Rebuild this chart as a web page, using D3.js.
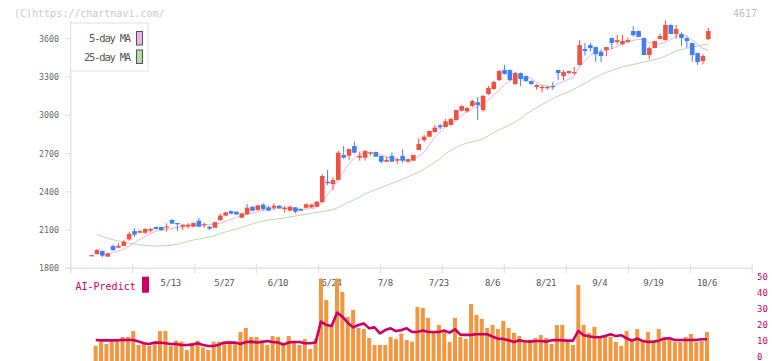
<!DOCTYPE html>
<html><head><meta charset="utf-8">
<script src="https://cdn.jsdelivr.net/npm/d3@7/dist/d3.min.js"></script>
<style>body{margin:0;background:#fff}svg{display:block}</style>
</head><body><div id="chart"></div>
<script>
const dates = ["4/17","4/18","4/21","4/22","4/23","4/24","4/25","4/28","4/30","5/1","5/2","5/7","5/8","5/9","5/12",
"5/13","5/14","5/15","5/16","5/19","5/20","5/21","5/22","5/23","5/26",
"5/27","5/28","5/29","5/30","6/2","6/3","6/4","6/5","6/6","6/9",
"6/10","6/11","6/12","6/13","6/16","6/17","6/18","6/19","6/20","6/23",
"6/24","6/25","6/26","6/27","6/30","7/1","7/2","7/3","7/4","7/7",
"7/8","7/9","7/10","7/11","7/14","7/15","7/16","7/17","7/18","7/22",
"7/23","7/24","7/25","7/28","7/29","7/30","7/31","8/1","8/4","8/5",
"8/6","8/7","8/8","8/12","8/13","8/14","8/15","8/18","8/19","8/20",
"8/21","8/22","8/25","8/26","8/27","8/28","8/29","9/1","9/2","9/3",
"9/4","9/5","9/8","9/9","9/10","9/11","9/12","9/16","9/17","9/18",
"9/19","9/22","9/24","9/25","9/26","9/29","9/30","10/1","10/2","10/3","10/6"];
const open  = [1900,1912,1936,1891,1975,1962,1975,2027,2092,2079,2079,2095,2124,2124,2121,2179,2155,2126,2129,2126,2173,2137,2126,2118,2179,2213,2249,2244,2197,2223,2283,2257,2299,2278,2275,2291,2263,2252,2278,2265,2275,2278,2283,2318,2479,2461,2493,2689,2683,2759,2668,2668,2702,2712,2681,2636,2681,2644,2681,2636,2644,2728,2806,2832,2869,2921,2908,2924,2963,3036,3031,3073,3102,3041,3167,3206,3276,3355,3355,3245,3331,3308,3269,3222,3214,3214,3230,3355,3308,3331,3331,3394,3520,3551,3535,3496,3512,3606,3575,3559,3575,3661,3661,3606,3473,3527,3598,3590,3708,3637,3637,3606,3567,3488,3426,3598];
const high  = [1905,1951,1940,1920,1985,1996,2022,2085,2114,2100,2114,2118,2126,2126,2153,2185,2155,2144,2153,2158,2194,2158,2132,2165,2229,2244,2255,2246,2233,2304,2286,2296,2310,2291,2310,2294,2289,2291,2281,2270,2310,2302,2328,2540,2571,2514,2722,2759,2740,2793,2715,2728,2715,2715,2683,2675,2707,2662,2733,2662,2689,2820,2845,2880,2924,2930,2971,2980,3041,3080,3065,3120,3141,3160,3230,3270,3355,3395,3360,3340,3335,3312,3272,3245,3237,3230,3262,3360,3355,3350,3378,3590,3567,3570,3540,3512,3535,3610,3630,3630,3610,3700,3665,3610,3540,3582,3640,3745,3712,3708,3650,3620,3570,3490,3480,3686];
const low   = [1898,1907,1886,1891,1936,1960,1975,2016,2048,2079,2069,2082,2104,2095,2087,2150,2095,2100,2111,2124,2126,2116,2100,2116,2171,2210,2223,2220,2194,2220,2249,2252,2252,2250,2257,2268,2236,2247,2231,2249,2270,2275,2281,2315,2453,2414,2490,2660,2649,2702,2644,2644,2683,2675,2623,2636,2636,2618,2628,2628,2644,2728,2793,2832,2864,2890,2906,2920,2960,3030,3020,3065,2963,3030,3160,3200,3270,3320,3270,3240,3230,3260,3240,3200,3180,3200,3200,3276,3276,3325,3316,3390,3469,3500,3420,3418,3465,3520,3555,3550,3570,3620,3614,3473,3440,3527,3598,3585,3637,3600,3545,3530,3420,3394,3400,3590];
const close = [1903,1944,1899,1918,1943,1975,2009,2069,2064,2092,2108,2108,2108,2100,2129,2150,2150,2142,2142,2155,2126,2145,2111,2161,2213,2239,2228,2223,2231,2275,2252,2294,2265,2252,2291,2270,2275,2283,2244,2252,2302,2299,2322,2524,2467,2492,2707,2668,2736,2707,2681,2720,2709,2675,2636,2649,2636,2655,2644,2655,2689,2775,2832,2877,2903,2906,2953,2971,3041,3072,3057,3112,3081,3151,3214,3261,3347,3324,3276,3331,3284,3269,3245,3237,3222,3222,3222,3331,3339,3347,3339,3551,3504,3527,3480,3465,3535,3567,3590,3582,3590,3629,3614,3473,3527,3582,3622,3708,3637,3677,3606,3582,3473,3418,3465,3661];
const ma5 = [null,null,null,1915,1925,1935,1950,1975,2000,2027,2050,2072,2090,2100,2104,2112,2120,2125,2130,2137,2140,2142,2145,2146,2155,2168,2185,2200,2212,2222,2233,2245,2255,2263,2270,2274,2274,2273,2268,2262,2264,2268,2275,2320,2380,2430,2500,2560,2620,2665,2690,2704,2708,2700,2688,2672,2665,2656,2650,2650,2657,2678,2710,2770,2830,2870,2912,2935,2968,3000,3030,3050,3070,3085,3118,3160,3200,3240,3270,3295,3305,3300,3288,3258,3236,3228,3226,3250,3265,3285,3310,3380,3430,3470,3495,3503,3510,3522,3540,3562,3575,3588,3596,3590,3570,3562,3560,3572,3595,3620,3630,3625,3590,3555,3525,3510];
const ma25 = [null,2066,2050,2035,2024,2013,2004,1997,1990,1984,1980,1976,1975,1976,1977,1982,1988,2000,2012,2022,2030,2038,2046,2058,2072,2085,2097,2108,2122,2135,2148,2162,2170,2178,2184,2190,2196,2203,2210,2216,2224,2231,2238,2245,2252,2260,2278,2300,2320,2338,2358,2385,2400,2418,2433,2450,2466,2482,2500,2518,2535,2555,2578,2605,2632,2658,2700,2725,2748,2768,2782,2793,2803,2814,2840,2865,2886,2905,2925,2948,2975,3010,3035,3060,3085,3108,3132,3150,3168,3185,3205,3230,3250,3275,3298,3318,3337,3352,3366,3380,3390,3398,3408,3418,3428,3438,3448,3465,3485,3505,3515,3525,3535,3545,3553,3560];
const volume = [null,7.1,9.8,8.3,9.8,9.8,12.7,12.7,16.4,7.7,8.3,7.1,8.3,16.4,16.4,7.1,10.4,9.8,4.6,9.1,10.4,6.2,4.6,9.8,9.8,9.1,10.4,9.1,15.8,18.3,12.7,12.7,10.8,7.7,13.3,12.7,9.1,13.3,9.8,7.7,11.4,5.2,11.4,55,35.8,20.2,55,40.8,25.2,29.6,18.3,17.7,12.1,7.7,7.7,7.7,12.7,11.4,14.8,10.8,9.8,31.5,30.8,24.6,15.8,20.2,16.5,9.6,24.6,12.7,11.5,33.3,26.5,24,18.3,20.2,17.7,22.7,18.3,15.2,13.3,10.8,10.8,12.1,14,12.1,8.3,20.2,20.2,9.6,7.7,45.2,20.2,15.2,19,13.3,12.7,12.7,9.6,7.1,16.5,10.8,17.7,10.2,15.8,10.2,17.7,10.8,10.8,9.6,9.6,12.7,14.6,9.6,10.2,15.8];
const aiPredict = [null,10.8,10.6,10.6,10.6,10.6,10.8,10.8,10.8,9.8,8.8,8.3,9.2,9.2,8.8,8.3,8.3,7.7,7.7,7.9,8.8,7.7,7.1,7.1,7.9,9.2,9.2,9.2,8.3,9.6,9.8,9.2,9.6,10.2,9.6,9.2,7.9,9.2,9.6,9.6,8.8,8.8,9.2,22.3,20.2,19.5,27.9,25.4,21.6,18.7,20.2,21.2,18.1,18.7,14.9,17,18.1,16.4,17,18.1,15.8,15.8,16.7,15.8,15.8,15.8,16.7,15.4,17.5,14.2,14,14,14.4,14.4,14.4,12.9,11.7,11.5,10.6,9.6,10.6,10,9.8,10.2,10.2,9.8,10.6,10.8,10.6,10.4,10.4,16.5,13.8,13.1,12.5,12.5,13.3,14.4,13.3,13.8,11.9,10.4,11.7,10.2,9.6,9.8,10.4,11.7,11.9,10.8,10.8,10.8,10.8,10.8,11.3,11.3];
const yTicks = [1800,2100,2400,2700,3000,3300,3600];
const xLabels = ["5/13","5/27","6/10","6/24","7/8","7/23","8/6","8/21","9/4","9/19","10/6"];
const volTicks = [0,10,20,30,40,50];
const legendItems = ["5-day MA","25-day MA"];

const W = 772, H = 361;
const UP = "#f0503f", DOWN = "#3f7ff0";
const MA5C = "#e6b3ea", MA25C = "#b5dba6", AIC = "#cc0066", VOLC = "#f29640";
const MONO = "'DejaVu Sans Mono', 'Liberation Mono', monospace";

const svg = d3.select("#chart").append("svg").attr("width", W).attr("height", H);

const x = d3.scaleLinear().domain([-3.9, 123.2]).range([70.7, 752.3]);
const y = d3.scaleLinear().domain([1800, 3600]).range([268.3, 38.8]);
const yv = d3.scaleLinear().domain([0, 50]).range([357.3, 277.3]);
const idx = d3.range(dates.length);

// header
svg.append("text").attr("x", 14).attr("y", 17).text("(C)https://chartnavi.com/")
  .attr("font-family", MONO).attr("font-size", 10).attr("fill", "#c8c8c8");
svg.append("text").attr("x", 757).attr("y", 17).attr("text-anchor", "end").text("4617")
  .attr("font-family", MONO).attr("font-size", 10).attr("fill", "#bdbdbd");

// axes
const axisCol = "#e3e3e3";
const [x0, x1] = x.range();
svg.append("line").attr("x1", x0).attr("x2", x0).attr("y1", 21).attr("y2", 268.3)
  .attr("stroke", axisCol).attr("stroke-width", 1.5);
svg.append("line").attr("x1", 65).attr("x2", x1).attr("y1", 268.3).attr("y2", 268.3)
  .attr("stroke", axisCol).attr("stroke-width", 1.5);
const gridTicks = d3.range(12).map(k => x0 + k * (x1 - x0) / 11);
svg.selectAll(".xt").data(gridTicks).join("line")
  .attr("x1", d => d).attr("x2", d => d).attr("y1", 264.5).attr("y2", 273)
  .attr("stroke", axisCol).attr("stroke-width", 1.5);
svg.selectAll(".yt").data(yTicks).join("line")
  .attr("x1", 65).attr("x2", x0).attr("y1", d => y(d)).attr("y2", d => y(d))
  .attr("stroke", axisCol).attr("stroke-width", 1.2);
svg.selectAll(".yl").data(yTicks).join("text")
  .attr("x", 59).attr("y", d => y(d) + 3).attr("text-anchor", "end").text(d => d)
  .attr("font-family", MONO).attr("font-size", 8.3).attr("fill", "#666");

svg.selectAll(".xl").data(xLabels).join("text")
  .attr("x", d => x(dates.indexOf(d)) - 1.4).attr("y", 286).attr("text-anchor", "middle").text(d => d)
  .attr("font-family", MONO).attr("font-size", 9).attr("letter-spacing", -0.4).attr("fill", "#555");

// MA lines
const lineGen = arr => d3.line().defined(i => arr[i] != null).x(i => x(i)).y(i => y(arr[i]))(idx);
svg.append("path").attr("d", lineGen(ma25)).attr("fill", "none").attr("stroke", MA25C).attr("stroke-width", 1);
svg.append("path").attr("d", lineGen(ma5)).attr("fill", "none").attr("stroke", MA5C).attr("stroke-width", 1);

// candles
const cw = 4.6;
const cg = svg.append("g");
idx.forEach(i => {
  const col = close[i] >= open[i] ? UP : DOWN;
  cg.append("line").attr("x1", x(i)).attr("x2", x(i)).attr("y1", y(high[i])).attr("y2", y(low[i]))
    .attr("stroke", col).attr("stroke-width", 1);
  const top = y(Math.max(open[i], close[i])), bot = y(Math.min(open[i], close[i]));
  cg.append("rect").attr("x", x(i) - cw / 2).attr("y", top).attr("width", cw)
    .attr("height", Math.max(1.2, bot - top)).attr("fill", col);
});

// legend
svg.append("rect").attr("x", 70.5).attr("y", 23).attr("width", 77.5).attr("height", 48)
  .attr("fill", "#fff").attr("stroke", "#e0e0e0").attr("stroke-width", 1);
legendItems.forEach((t, k) => {
  svg.append("text").attr("x", 130).attr("y", 42 + k * 19).attr("text-anchor", "end").text(t)
    .attr("font-family", MONO).attr("font-size", 10.5).attr("letter-spacing", -1.2).attr("fill", "#555");
  svg.append("rect").attr("x", 136.5).attr("y", 31.5 + k * 18.5).attr("width", 6).attr("height", 13.5)
    .attr("fill", k === 0 ? MA5C : MA25C).attr("stroke", "#555").attr("stroke-width", 1);
});

// lower panel
svg.append("defs").append("clipPath").attr("id", "vclip").append("rect")
  .attr("x", 60).attr("y", 278.5).attr("width", 700).attr("height", 90);
const vg = svg.append("g").attr("clip-path", "url(#vclip)");
const off = -1.3;
vg.selectAll(".vb").data(idx.filter(i => volume[i] != null)).join("rect")
  .attr("x", i => x(i) + off - 2).attr("width", 4)
  .attr("y", i => yv(volume[i])).attr("height", i => 361 - yv(volume[i])).attr("fill", VOLC);
vg.append("path")
  .attr("d", d3.line().defined(i => aiPredict[i] != null).x(i => x(i) + off).y(i => yv(aiPredict[i]))(idx))
  .attr("fill", "none").attr("stroke", AIC).attr("stroke-width", 2.6).attr("stroke-linejoin", "round");

svg.selectAll(".vl").data(volTicks).join("text")
  .attr("x", 757).attr("y", d => yv(d) + 2.6).text(d => d)
  .attr("font-family", MONO).attr("font-size", 9).attr("fill", AIC);

svg.append("text").attr("x", 75.5).attr("y", 289.5).text("AI-Predict")
  .attr("font-family", MONO).attr("font-size", 10).attr("fill", AIC);
svg.append("rect").attr("x", 142).attr("y", 276.7).attr("width", 7).attr("height", 16).attr("fill", AIC);
</script></body></html>
